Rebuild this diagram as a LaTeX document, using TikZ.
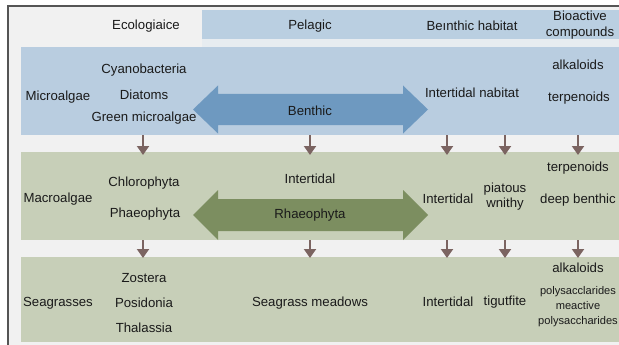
\documentclass[tikz,border=0pt]{standalone}
\usepackage{fontspec}
\setmainfont{Liberation Sans}
\usetikzlibrary{arrows.meta}
\definecolor{framebg}{HTML}{F1F1F1}
\definecolor{hdrblue}{HTML}{BACFE1}
\definecolor{bandblue}{HTML}{E7ECF0}
\definecolor{rowblue}{HTML}{B9CDE0}
\definecolor{rowgreen}{HTML}{C7CFB8}
\definecolor{arrblue}{HTML}{6E99C0}
\definecolor{arrgreen}{HTML}{7C8E60}
\definecolor{arrbrown}{HTML}{7B6461}
\definecolor{framec}{HTML}{555555}
\definecolor{txtc}{HTML}{1A1A1A}
\begin{document}
\begin{tikzpicture}[x=1pt,y=-1pt,
  txt/.style={font=\fontsize{13.2}{14}\selectfont, text=txtc, inner sep=0pt, anchor=center},
  sm/.style={font=\fontsize{11.1}{12}\selectfont, text=txtc, inner sep=0pt, anchor=center},
  down/.style={draw=arrbrown, line width=2pt, -{Triangle[width=12pt,length=9pt]}}]
\useasboundingbox (0,0) rectangle (619,345);
\fill[white] (0,0) rectangle (619,345);
% frame background
\fill[framebg] (8,6) rectangle (619,345);
% header strip
\fill[hdrblue] (202,10) rectangle (619,39);
\fill[bandblue] (202,39) rectangle (619,47);
% rows
\fill[rowblue] (21,47) rectangle (619,135);
\fill[rowgreen] (21,152) rectangle (619,240);
\fill[rowgreen] (21,257) rectangle (619,342);
% frame lines
\draw[framec, line width=1.4pt] (8,345) -- (8,6) -- (619,6);

% header texts
\node[txt] (hEco) at (146,26) {Ecologiaice};
\node[txt] (hPel) at (310,26) {Pelagic};
\node[txt] (hBen) at (472,26) {Beınthic habitat};
\node[txt, align=center, font=\fontsize{13.2}{16}\selectfont] (hBio) at (580,25) {Bioactive\\compounds};

% row 1
\node[txt] (mic) at (58,97) {Microalgae};
\node[txt] (cya) at (144,70) {Cyanobacteria};
\node[txt] (dia) at (144,95) {Diatoms};
\node[txt] (gre) at (144,118) {Green microalgae};
\fill[arrblue] (193,109.5) -- (218,85.5) -- (218,94) -- (403,94) -- (403,85.5) -- (428,109.5)
  -- (403,133.5) -- (403,125) -- (218,125) -- (218,133.5) -- cycle;
\node[txt] (ben) at (310,111) {Benthic};
\node[txt] (inh) at (472,93) {Intertidal nabitat};
\node[txt] (alk1) at (578,65) {alkaloids};
\node[txt] (ter1) at (579,98) {terpenoids};

% row 2
\node[txt] (mac) at (58,199) {Macroalgae};
\node[txt] (chl) at (144,183) {Chlorophyta};
\node[txt] (pha) at (145,214) {Phaeophyta};
\node[txt] (int2) at (310,179) {Intertidal};
\fill[arrgreen] (193,215) -- (218,190) -- (218,199) -- (403,199) -- (403,190) -- (428,215)
  -- (403,240) -- (403,231) -- (218,231) -- (218,240) -- cycle;
\node[txt] (rha) at (310,215) {Rhaeophyta};
\node[txt] (int3) at (448,199) {Intertidal};
\node[txt, align=center, font=\fontsize{13.2}{15}\selectfont] (pia) at (505,197) {piatous\\wnithy};
\node[txt] (ter2) at (578,168) {terpenoids};
\node[txt] (dee) at (578,200) {deep benthic};

% row 3
\node[txt] (sea) at (58,303) {Seagrasses};
\node[txt] (zos) at (144,278) {Zostera};
\node[txt] (pos) at (144,303) {Posidonia};
\node[txt] (tha) at (144,328) {Thalassia};
\node[txt] (mea) at (310,303) {Seagrass meadows};
\node[txt] (int4) at (448,302) {Intertidal};
\node[txt] (tig) at (505,302) {tigutfite};
\node[txt] (alk2) at (578,268) {alkaloids};
\node[sm, align=center, font=\fontsize{11.1}{15}\selectfont] (pol) at (578,307) {polysacclarides\\meactive\\polysaccharides};

% down arrows
\foreach \n/\x in {a/143,b/310,c/447,d/505,e/578}{
  \coordinate (s1\n) at (\x,135);
  \coordinate (t1\n) at (\x,155);
  \coordinate (s2\n) at (\x,240);
  \coordinate (t2\n) at (\x,258);
  \draw[down] (s1\n) -- (t1\n);
  \draw[down] (s2\n) -- (t2\n);
}
\end{tikzpicture}
\end{document}
